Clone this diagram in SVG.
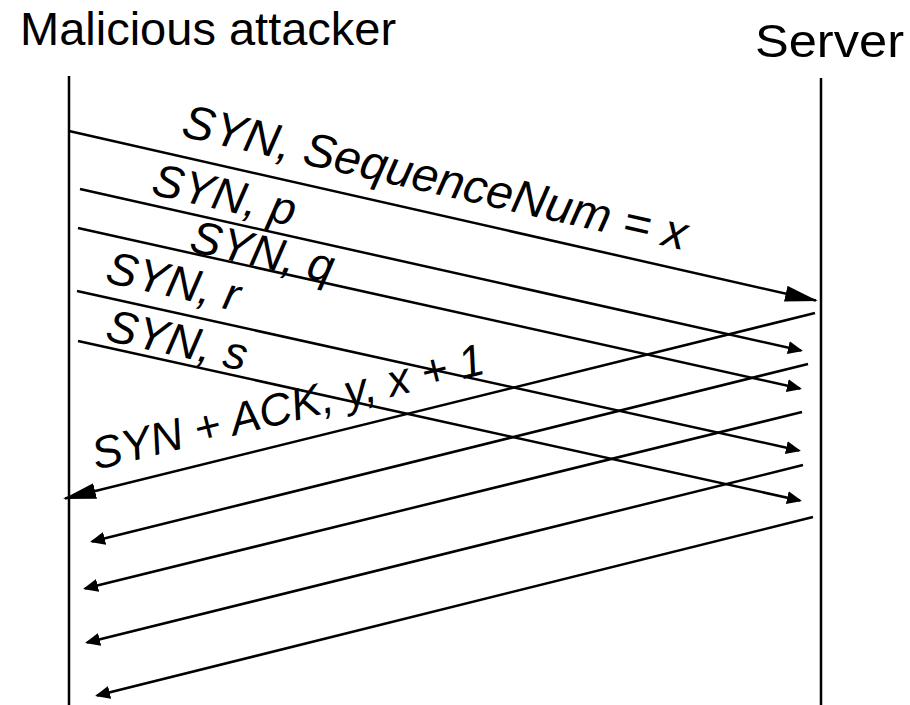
<svg xmlns="http://www.w3.org/2000/svg" width="910" height="705" viewBox="0 0 910 705">
  <style>
    .title { font-family: "Liberation Sans", Arial, sans-serif; font-size: 47px; fill: #000; }
    .label { font-family: "Liberation Sans", Arial, sans-serif; font-size: 46px; font-style: italic; fill: #000; }
    .life { stroke: #000; stroke-width: 2.5; fill: none; }
    .msg { stroke: #000; stroke-width: 2.5; fill: none; }
    .msg.small { marker-end: url(#head-small); }
    .msg.big { marker-end: url(#head-big); }
  </style>
  <defs>
    <marker id="head-small" markerUnits="userSpaceOnUse" orient="auto" markerWidth="18" markerHeight="14" refX="13" refY="7" viewBox="0 0 18 14">
      <path d="M0,0.5 L15,7 L0,13.5 Z" fill="#000"/>
    </marker>
    <marker id="head-big" markerUnits="userSpaceOnUse" orient="auto" markerWidth="36" markerHeight="18" refX="31" refY="8" viewBox="0 0 36 18">
      <path d="M0,0 L33,8 L0,16 Z" fill="#000"/>
    </marker>
  </defs>

  <rect width="910" height="705" fill="#fff"/>

  <!-- participants -->
  <g id="attacker">
    <text class="title" x="20" y="45">Malicious attacker</text>
    <line class="life" x1="69" y1="76" x2="69" y2="705"/>
  </g>
  <g id="server">
    <text class="title" x="755" y="57" textLength="149" lengthAdjust="spacingAndGlyphs">Server</text>
    <line class="life" x1="821" y1="78" x2="821" y2="705"/>
  </g>

  <!-- messages -->
  <g id="connectors">
    <!-- SYN requests, attacker to server -->
    <line class="msg big" x1="69" y1="131" x2="816" y2="300.5"/>
    <line class="msg small" x1="80" y1="189" x2="801" y2="350.5"/>
    <line class="msg small" x1="78" y1="228" x2="800" y2="388.5"/>
    <line class="msg small" x1="77" y1="291" x2="799" y2="450.5"/>
    <line class="msg small" x1="78" y1="341" x2="800" y2="500.5"/>
    <!-- SYN + ACK replies, server to attacker -->
    <line class="msg big" x1="815" y1="313" x2="65" y2="498.5"/>
    <line class="msg small" x1="808" y1="364" x2="92" y2="541.5"/>
    <line class="msg small" x1="802" y1="412" x2="85" y2="588.5"/>
    <line class="msg small" x1="803" y1="465" x2="87" y2="642.5"/>
    <line class="msg small" x1="813" y1="517" x2="97" y2="695.5"/>
  </g>

  <!-- message labels -->
  <g id="labels">
    <text class="label" style="font-size:47.5px" transform="translate(180,136) rotate(12.8)">SYN, SequenceNum = x</text>
    <text class="label" transform="translate(150,194) rotate(12.7)">SYN, p</text>
    <text class="label" transform="translate(188,251) rotate(12.6)">SYN, q</text>
    <text class="label" transform="translate(104,282) rotate(12.5)">SYN, r</text>
    <text class="label" transform="translate(104,340) rotate(12.5)">SYN, s</text>
    <text class="label" style="font-size:45px" transform="translate(96,470) rotate(-13.9)">SYN + ACK, y, x + 1</text>
  </g>
</svg>
